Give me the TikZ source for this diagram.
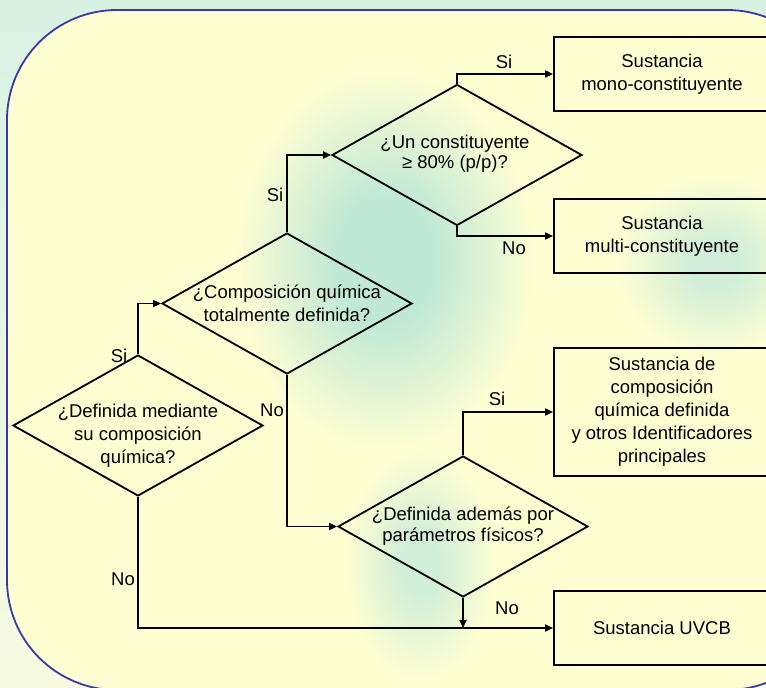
\documentclass[tikz,border=0pt]{standalone}
\usepackage{fontspec}
\setmainfont{Liberation Sans}
\usetikzlibrary{shapes.geometric,arrows.meta}
\definecolor{bgtop}{HTML}{D8F1E3}
\definecolor{bgbot}{HTML}{F8FBE2}
\definecolor{bgin}{HTML}{FEFED3}
\definecolor{tealsoft}{HTML}{BFE8D6}
\definecolor{teallight}{HTML}{D0EED8}
\definecolor{frameblue}{HTML}{3A3AA2}
\pgfdeclareradialshading{blobA}{\pgfpoint{0bp}{0bp}}{color(0bp)=(tealsoft); color(8bp)=(tealsoft); color(25bp)=(bgin); color(50bp)=(bgin)}
\pgfdeclareradialshading{blobB}{\pgfpoint{0bp}{0bp}}{color(0bp)=(teallight); color(6bp)=(teallight); color(25bp)=(bgin); color(50bp)=(bgin)}
\begin{document}
\begin{tikzpicture}[x=1pt,y=-1pt,
  every node/.style={font=\fontsize{18.5}{23}\selectfont, inner sep=0pt},
  dia/.style={draw, shape=diamond, line width=1.8pt, minimum width=250pt, minimum height=141pt},
  box/.style={draw, line width=1.8pt, minimum width=216pt, align=center},
  qtext/.style={align=center},
  lbl/.style={},
  conn/.style={line width=1.8pt, -{Triangle[length=8pt,width=7pt]}},
  line join=miter]
\useasboundingbox (0,0) rectangle (766,688);
\clip (0,0) rectangle (766,688);
% background
\shade[top color=bgtop, bottom color=bgbot] (0,0) rectangle (766,688);
\begin{scope}
  \clip[rounded corners=110pt] (7,10) rectangle (837,690);
  \fill[bgin] (0,0) rectangle (766,688);
  \shade[shading=blobB] (420,565) ellipse (75pt and 115pt);
  \shade[shading=blobA] (385,260) ellipse (150pt and 190pt);
  \shade[shading=blobB] (715,265) ellipse (100pt and 90pt);
\end{scope}
\draw[frameblue, line width=1.8pt, rounded corners=110pt] (7,10) rectangle (837,690);

% decision diamonds
\node[dia] (d1) at (138,425.5) {};
\node[dia] (d2) at (287,303.5) {};
\node[dia] (d3) at (457,155) {};
\node[dia] (d4) at (463,526.5) {};

\node[qtext] (d1t) at (138,436) {¿Definida mediante\\su composición\\química?};
\node[qtext] (d2t) at (287,303) {¿Composición química\\totalmente definida?};
\node[qtext, font=\fontsize{18.5}{20}\selectfont] (d3t) at (455,154) {¿Un constituyente\\≥ 80\% (p/p)?};
\node[qtext, font=\fontsize{18.5}{21.5}\selectfont] (d4t) at (463,526) {¿Definida además por\\parámetros físicos?};

% result boxes
\node[box, minimum height=74pt] (b1) at (662,74) {Sustancia\\mono-constituyente};
\node[box, minimum height=74pt] (b2) at (662,236) {Sustancia\\multi-constituyente};
\node[box, minimum height=128pt] (b3) at (662,412) {Sustancia de\\composición\\química definida\\y otros Identificadores\\principales};
\node[box, minimum height=74pt] (b4) at (662,628) {Sustancia UVCB};

% connectors
\draw[conn] (d1.north) |- (d2.west);
\draw[conn] (d1.south) |- (b4.west);
\draw[conn] (d2.north) |- (d3.west);
\draw[conn] (d2.south) |- (d4.west);
\draw[conn] (d3.north) |- (b1.west);
\draw[conn] (d3.south) |- (b2.west);
\draw[conn] (d4.north) |- (b3.west);
\coordinate (j4) at (d4.south |- b4.west);
\draw[conn] (d4.south) -- (j4);

% labels
\node[lbl] (l1) at (119,356) {Si};
\node[lbl] (l2) at (123,579) {No};
\node[lbl] (l3) at (275,195) {Si};
\node[lbl] (l4) at (272,410) {No};
\node[lbl] (l5) at (504,62) {Si};
\node[lbl] (l6) at (514,248) {No};
\node[lbl] (l7) at (497,399) {Si};
\node[lbl] (l8) at (507,608) {No};
\end{tikzpicture}
\end{document}
